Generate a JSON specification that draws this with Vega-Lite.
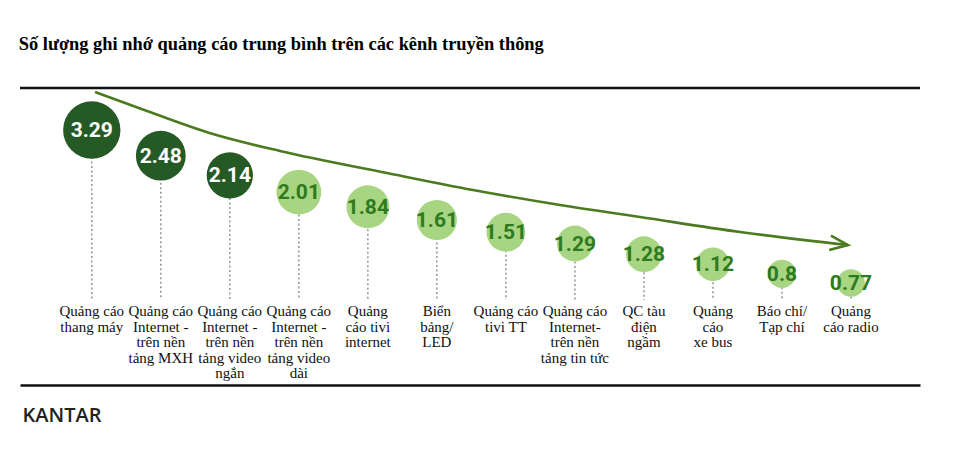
{
  "$schema": "https://vega.github.io/schema/vega-lite/v6.json",
  "width": 900,
  "height": 297,
  "autosize": {"type": "none"},
  "padding": {"left": 20, "top": 88, "right": 55, "bottom": 74},
  "background": "white",
  "config": {
    "view": {"stroke": null},
    "axisX": {
      "labels": false, "ticks": false, "grid": false, "domain": true,
      "domainColor": "#111111", "domainWidth": 2.5,
      "titleFont": "Open Sans", "titleFontSize": 20, "titleFontWeight": 600, "titleColor": "#222222",
      "titleAlign": "left", "titleAnchor": "start", "titleX": 2, "titleY": 30, "titleBaseline": "middle"
    }
  },
  "title": {
    "text": "Số lượng ghi nhớ quảng cáo trung bình trên các kênh truyền thông",
    "anchor": "start",
    "font": "Liberation Serif",
    "fontSize": 18.4,
    "fontWeight": "bold",
    "color": "#000000",
    "offset": 33
  },
  "data": {
    "values": [
      {"rank": 1, "channel": "Quảng cáo\nthang máy", "value": 3.29},
      {"rank": 2, "channel": "Quảng cáo\nInternet -\ntrên nền\ntảng MXH", "value": 2.48},
      {"rank": 3, "channel": "Quảng cáo\nInternet -\ntrên nền\ntảng video\nngắn", "value": 2.14},
      {"rank": 4, "channel": "Quảng cáo\nInternet -\ntrên nền\ntảng video\ndài", "value": 2.01},
      {"rank": 5, "channel": "Quảng\ncáo tivi\ninternet", "value": 1.84},
      {"rank": 6, "channel": "Biển\nbảng/\nLED", "value": 1.61},
      {"rank": 7, "channel": "Quảng cáo\ntivi TT", "value": 1.51},
      {"rank": 8, "channel": "Quảng cáo\nInternet-\ntrên nền\ntảng tin tức", "value": 1.29},
      {"rank": 9, "channel": "QC tàu\nđiện\nngầm", "value": 1.28},
      {"rank": 10, "channel": "Quảng\ncáo\nxe bus", "value": 1.12},
      {"rank": 11, "channel": "Báo chí/\nTạp chí", "value": 0.8},
      {"rank": 12, "channel": "Quảng\ncáo radio", "value": 0.77}
    ]
  },
  "layer": [
    {
      "data": {"values": [{"x0": -0.04, "x1": 13, "y": 0.1047}]},
      "mark": {"type": "rule", "color": "#111111", "strokeWidth": 2.5},
      "encoding": {
        "x": {
          "field": "x0", "type": "quantitative",
          "scale": {"domain": [-0.04, 13], "nice": false, "zero": false},
          "axis": {"title": "KANTAR"}
        },
        "x2": {"field": "x1"},
        "y": {
          "field": "y", "type": "quantitative",
          "scale": {"type": "sqrt", "domain": [1, 12], "range": [42, 195], "nice": false, "zero": false},
          "axis": null
        }
      }
    },
    {
      "mark": {"type": "rule", "strokeDash": [2, 2.5], "color": "#9a9a9a", "strokeWidth": 1.6},
      "encoding": {
        "x": {"field": "rank", "type": "quantitative", "axis": {"title": "KANTAR"}},
        "y": {"field": "rank", "type": "quantitative", "axis": null},
        "y2": {"value": 212}
      }
    },
    {
      "mark": {"type": "text", "lineBreak": "\n", "font": "Liberation Serif", "fontSize": 15, "lineHeight": 15.5, "align": "center", "baseline": "middle", "color": "#111111"},
      "encoding": {
        "x": {"field": "rank", "type": "quantitative", "axis": {"title": "KANTAR"}},
        "y": {"value": 223},
        "text": {"field": "channel", "type": "nominal"}
      }
    },
    {
      "mark": {"type": "circle", "opacity": 1},
      "encoding": {
        "x": {"field": "rank", "type": "quantitative", "axis": {"title": "KANTAR"}},
        "y": {"field": "rank", "type": "quantitative", "axis": null},
        "size": {"field": "value", "type": "quantitative", "scale": {"type": "linear", "domain": [0, 4], "range": [0, 4000], "zero": true}, "legend": null},
        "color": {"condition": {"test": "datum.rank <= 3", "value": "#265a24"}, "value": "#a8d582"}
      }
    },
    {
      "mark": {"type": "text", "font": "Roboto", "fontSize": 21, "fontWeight": "bold", "align": "center", "baseline": "middle", "dy": 1},
      "encoding": {
        "x": {"field": "rank", "type": "quantitative", "axis": {"title": "KANTAR"}},
        "y": {"field": "rank", "type": "quantitative", "axis": null},
        "text": {"field": "value", "type": "quantitative"},
        "color": {"condition": {"test": "datum.rank <= 3", "value": "#ffffff"}, "value": "#2e7a1f"}
      }
    },
    {
      "data": {
        "values": [
          {"x": 1.047, "y": 0.1506},
          {"x": 1.8, "y": 0.4816},
          {"x": 2.756, "y": 1.133},
          {"x": 3.727, "y": 1.791},
          {"x": 5.277, "y": 2.865},
          {"x": 6.523, "y": 3.866},
          {"x": 7.784, "y": 4.875},
          {"x": 8.943, "y": 5.765},
          {"x": 10.392, "y": 6.984},
          {"x": 11.956, "y": 8.134}
        ]
      },
      "mark": {"type": "line", "interpolate": "monotone", "color": "#4b7b1f", "strokeWidth": 2.6},
      "encoding": {
        "x": {"field": "x", "type": "quantitative", "axis": {"title": "KANTAR"}},
        "y": {"field": "y", "type": "quantitative", "axis": null}
      }
    },
    {
      "data": {"values": [{"x": 11.956, "y": 8.134}]},
      "mark": {"type": "point", "shape": "M-1,-0.4L0,0L-1,0.4", "filled": false, "color": "#4b7b1f", "strokeWidth": 2.6, "size": 1296, "angle": 7, "opacity": 1},
      "encoding": {
        "x": {"field": "x", "type": "quantitative", "axis": {"title": "KANTAR"}},
        "y": {"field": "y", "type": "quantitative", "axis": null}
      }
    }
  ]
}
